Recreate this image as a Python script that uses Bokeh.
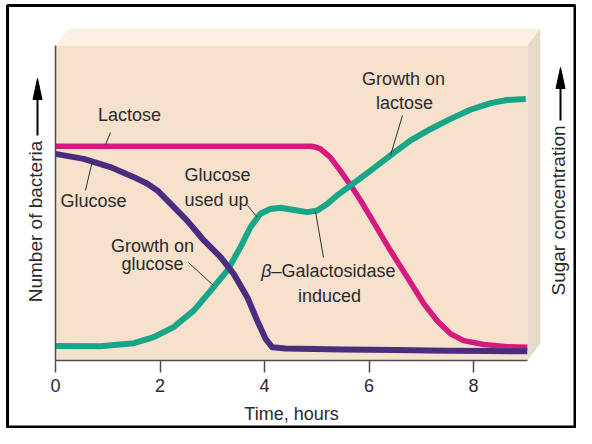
import math
from bokeh.plotting import figure
from bokeh.models import Range1d, FixedTicker, Label
from bokeh.core.properties import value
from bokeh.embed import file_html
from bokeh.resources import INLINE

# ---------------- data ----------------
lactose_hours = [0, 1, 2, 3, 4, 4.5, 4.88, 4.97, 5.07, 5.26, 5.45, 5.65, 5.84, 6.03,
                 6.41, 6.73, 7.05, 7.3, 7.56, 7.81, 8.2, 8.64, 9.03]
lactose_level = [6.8, 6.8, 6.8, 6.8, 6.8, 6.8, 6.8, 6.78, 6.72, 6.45, 6.03, 5.56, 5.08, 4.55,
                 3.49, 2.65, 1.8, 1.27, 0.85, 0.63, 0.51, 0.44, 0.42]

glucose_hours = [0, 0.54, 1.05, 1.5, 1.75, 1.95, 2.2, 2.52, 2.84, 3.16, 3.41, 3.67, 3.86,
                 4.02, 4.15, 4.4, 5.5, 6.5, 7.5, 8.3, 9.03]
glucose_level = [6.56, 6.4, 6.14, 5.82, 5.62, 5.4, 4.98, 4.44, 3.81, 3.28, 2.75, 2.01, 1.27,
                 0.69, 0.42, 0.38, 0.35, 0.33, 0.31, 0.3, 0.29]

growth_hours = [0, 0.86, 1.5, 1.88, 2.26, 2.65, 2.97, 3.29, 3.54, 3.73, 3.92, 4.11, 4.31,
                4.56, 4.82, 5.01, 5.2, 5.39, 5.65, 6.03, 6.41, 6.79, 7.18, 7.56, 7.94,
                8.33, 8.64, 9.0]
growth_level = [0.46, 0.45, 0.55, 0.74, 1.06, 1.59, 2.22, 2.86, 3.6, 4.23, 4.66, 4.81, 4.85,
                4.78, 4.71, 4.76, 4.97, 5.24, 5.56, 6.03, 6.51, 6.98, 7.35, 7.67, 7.96,
                8.17, 8.27, 8.3]

x_ticks = [0, 2, 4, 6, 8]
x_title = "Time, hours"
side_titles = ["Number of bacteria", "Sugar concentration"]

# ---------------- styling / layout constants ----------------
W, H = 576, 428
PX_X0, PX_Y0 = 55.0, 360.0        # pixel position of (0, 0)
PX_PER_X, PX_PER_Y = 52.25, 31.5  # pixels per hour / per unit of level
X_END = 9.03
Y_TOP = 10.0
DEPTH_X = 0.25
DEPTH_Y = 0.54
FONT = "Liberation Sans"
TXT = "#2a2a2a"
C_LAC = "#d7197d"
C_GLU = "#4b2d7f"
C_GRO = "#19a587"

x_lo = -PX_X0 / PX_PER_X
x_hi = (W - PX_X0) / PX_PER_X
y_lo = -(H - PX_Y0) / PX_PER_Y
y_hi = PX_Y0 / PX_PER_Y

p = figure(width=W, height=H, output_backend="svg", toolbar_location=None, title=None,
           x_range=Range1d(x_lo, x_hi), y_range=Range1d(y_lo, y_hi),
           min_border=0, min_border_left=0, min_border_right=0,
           min_border_top=0, min_border_bottom=0)
p.background_fill_color = "white"
p.border_fill_color = "white"
p.outline_line_color = None
p.xgrid.visible = False
p.ygrid.visible = False

# outer black frame of the picture
p.quad(left=x_lo + 7 / PX_PER_X, right=x_hi - 1.5 / PX_PER_X,
       bottom=y_lo + 1.5 / PX_PER_Y, top=y_hi - 5 / PX_PER_Y,
       fill_color=None, line_color="black", line_width=3)

# 3D box
p.patch([0, X_END, X_END + DEPTH_X, DEPTH_X],
        [Y_TOP, Y_TOP, Y_TOP + DEPTH_Y, Y_TOP + DEPTH_Y],
        fill_color="#fcefe3", line_color=None)
p.patch([X_END, X_END + DEPTH_X, X_END + DEPTH_X, X_END],
        [0, DEPTH_Y, Y_TOP + DEPTH_Y, Y_TOP],
        fill_color="#e6dac8", line_color=None)
p.quad(left=0, right=X_END, bottom=0, top=Y_TOP, fill_color="#f6e1cd", line_color=None)

# curves
p.line(lactose_hours, lactose_level, line_color=C_LAC, line_width=5.5, line_join="round")
p.line(growth_hours, growth_level, line_color=C_GRO, line_width=6, line_join="round")
p.line(glucose_hours, glucose_level, line_color=C_GLU, line_width=6, line_join="round")

# axes (drawn at the data origin)
ax = p.xaxis[0]
ax.fixed_location = 0
ax.ticker = FixedTicker(ticks=x_ticks)
ax.bounds = (0, X_END)
ax.axis_line_color = "#4d4d4d"
ax.axis_line_width = 1.5
ax.major_tick_line_color = "#4d4d4d"
ax.major_tick_line_width = 1.5
ax.major_tick_out = 12
ax.major_tick_in = 0
ax.minor_tick_line_color = None
ax.major_label_text_font = FONT
ax.major_label_text_font_size = "18px"
ax.major_label_text_color = TXT
ax.major_label_standoff = 6
ax.axis_label = x_title
ax.axis_label_text_font = FONT
ax.axis_label_text_font_size = "18px"
ax.axis_label_text_font_style = "normal"
ax.axis_label_text_color = TXT
ax.axis_label_standoff = 9

ay = p.yaxis[0]
ay.fixed_location = 0
ay.ticker = FixedTicker(ticks=[])
ay.bounds = (0, Y_TOP)
ay.axis_line_color = "#4d4d4d"
ay.axis_line_width = 1.5
ay.major_tick_line_color = None
ay.minor_tick_line_color = None
ay.major_label_text_font_size = "0px"


def lab(x, y, text, align="center", style="normal", size="18px"):
    p.add_layout(Label(x=x, y=y, text=text, text_align=align, text_baseline="middle",
                       text_font=FONT, text_font_size=size, text_font_style=style,
                       text_color=TXT))


def leader(x0, y0, x1, y1):
    p.segment(x0=[x0], y0=[y0], x1=[x1], y1=[y1], line_color="#333333", line_width=1)


# annotations
lab(1.416, 7.78, "Lactose")
leader(1.053, 7.24, 0.957, 6.85)
lab(0.727, 5.05, "Glucose")
leader(0.574, 5.40, 0.708, 6.35)
lab(3.10, 5.90, "Glucose")
lab(3.08, 5.11, "used up")
leader(3.675, 4.92, 3.86, 4.55)
lab(1.856, 3.62, "Growth on")
lab(1.856, 3.05, "glucose")
leader(2.545, 3.11, 3.024, 2.38)
lab(4.134, 2.83, "β", align="right", style="italic")
lab(4.134, 2.83, "–Galactosidase", align="left")
lab(5.244, 2.06, "induced")
leader(5.129, 3.27, 4.976, 4.73)
lab(6.66, 8.95, "Growth on")
lab(6.68, 8.19, "lactose")
leader(6.641, 7.78, 6.411, 6.51)

# side titles (rotated) with arrows
side_x = [(35 - PX_X0) / PX_PER_X, (558 - PX_X0) / PX_PER_X]
side_y = [(PX_Y0 - 221) / PX_PER_Y, (PX_Y0 - 210) / PX_PER_Y]
p.text(x=side_x, y=side_y, text=side_titles, angle=math.pi / 2,
       text_align="center", text_baseline="middle",
       text_font=value(FONT), text_font_size="19px", text_color=TXT)

arrow_x = [(37 - PX_X0) / PX_PER_X, (560 - PX_X0) / PX_PER_X]
arrow_start = [(PX_Y0 - 135) / PX_PER_Y, (PX_Y0 - 120) / PX_PER_Y]
arrow_tip = [(PX_Y0 - 78) / PX_PER_Y, (PX_Y0 - 67) / PX_PER_Y]
HEAD_LEN = 21 / PX_PER_Y
HEAD_HALF = 4.5 / PX_PER_X
p.segment(x0=arrow_x, y0=arrow_start, x1=arrow_x, y1=[t - HEAD_LEN * 0.8 for t in arrow_tip],
          line_color="black", line_width=2)
p.patches(xs=[[ax_ - HEAD_HALF, ax_, ax_ + HEAD_HALF] for ax_ in arrow_x],
          ys=[[t - HEAD_LEN, t, t - HEAD_LEN] for t in arrow_tip],
          fill_color="black", line_color="black", line_width=1)

open("out.html", "w").write(file_html(p, INLINE))
